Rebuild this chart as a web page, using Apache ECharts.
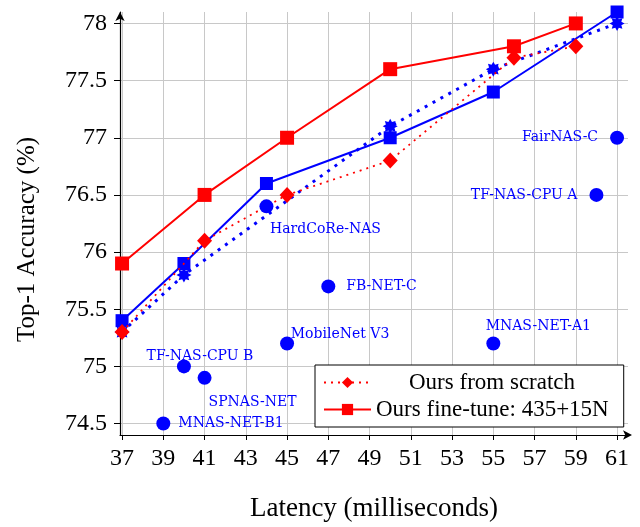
<!DOCTYPE html>
<html>
<head>
<meta charset="utf-8">
<script src="https://cdn.jsdelivr.net/npm/echarts@6/dist/echarts.min.js"></script>
<style>html,body{margin:0;padding:0;background:#fff}#chart{width:640px;height:527px}</style>
</head>
<body>
<div id="chart"></div>
<script>
// ---- data ----
const xTicks = [37, 39, 41, 43, 45, 47, 49, 51, 53, 55, 57, 59, 61];
const yTicks = [74.5, 75, 75.5, 76, 76.5, 77, 77.5, 78];

const scratchLatency = [37, 41, 45, 50, 56, 59];
const scratchAcc = [75.3, 76.1, 76.5, 76.8, 77.7, 77.8];

const fineTuneLatency = [37, 41, 45, 50, 56, 59];
const fineTuneAcc = [75.9, 76.5, 77.0, 77.6, 77.8, 78.0];

const blueFineLatency = [37, 40, 44, 50, 55, 61];
const blueFineAcc = [75.4, 75.9, 76.6, 77.0, 77.4, 78.1];

const blueScratchLatency = [37, 40, 50, 55, 61];
const blueScratchAcc = [75.3, 75.8, 77.1, 77.6, 78.0];

const modelNames = ['MNAS-NET-B1', 'TF-NAS-CPU B', 'SPNAS-NET', 'MobileNet V3', 'FB-NET-C', 'HardCoRe-NAS', 'MNAS-NET-A1', 'TF-NAS-CPU A', 'FairNAS-C'];
const modelLatency = [39, 40, 41, 45, 47, 44, 55, 60, 61];
const modelAcc = [74.5, 75.0, 74.9, 75.2, 75.7, 76.4, 75.2, 76.5, 77.0];

const legendNames = ['Ours from scratch', 'Ours fine-tune: 435+15N'];

// ---- styles ----
const RED = '#ff0000', BLUE = '#0000ff';
const labelPlacement = {
  'MNAS-NET-B1': { position: 'right', distance: 8 },
  'TF-NAS-CPU B': { position: 'top', distance: 0, offset: [16, 4] },
  'SPNAS-NET': { position: 'bottom', distance: 8, offset: [48, 3] },
  'MobileNet V3': { position: 'top', distance: 0, offset: [53, 5] },
  'FB-NET-C': { position: 'right', distance: 11 },
  'HardCoRe-NAS': { position: 'bottom', distance: 8, offset: [59, 1] },
  'MNAS-NET-A1': { position: 'top', distance: 7, offset: [45, 4] },
  'TF-NAS-CPU A': { position: 'left', distance: 12 },
  'FairNAS-C': { position: 'left', distance: 12 }
};
const starPath = 'path://M20,10L15.73,12.37L17.07,17.07L12.37,15.73L10,20L7.63,15.73L2.93,17.07L4.27,12.37L0,10L4.27,7.63L2.93,2.93L7.63,4.27L10,0L12.37,4.27L17.07,2.93L15.73,7.63Z';
const serif = '"Liberation Serif", "DejaVu Serif", serif';

const zip = (xs, ys) => xs.map((x, i) => [x, ys[i]]);

const chart = echarts.init(document.getElementById('chart'), null, { renderer: 'canvas' });
chart.setOption({
  animation: false,
  backgroundColor: '#fff',
  grid: { left: 120, right: 12, top: 12, bottom: 86, containLabel: false },
  xAxis: {
    type: 'value', min: 36.9, max: 61.53,
    name: 'Latency (milliseconds)', nameLocation: 'middle', nameGap: 60,
    nameTextStyle: { fontFamily: serif, fontSize: 27, color: '#000' },
    axisLine: { onZero: false, lineStyle: { color: '#000', width: 1.2 }, symbol: ['none', 'arrow'], symbolSize: [7, 9], symbolOffset: [0, 4] },
    axisTick: { show: true, length: 5, customValues: xTicks, lineStyle: { color: '#000' } },
    axisLabel: { customValues: xTicks, margin: 12, fontFamily: serif, fontSize: 24, color: '#000' },
    splitLine: { show: true, lineStyle: { color: '#c8c8c8', width: 1 } }
  },
  yAxis: {
    type: 'value', min: 74.4, max: 78.1,
    name: 'Top-1 Accuracy (%)', nameLocation: 'middle', nameGap: 80,
    nameTextStyle: { fontFamily: serif, fontSize: 25, color: '#000', padding: [0, 32, 0, 0] },
    axisLine: { onZero: false, lineStyle: { color: '#000', width: 1.2 }, symbol: ['none', 'arrow'], symbolSize: [7, 9], symbolOffset: [0, 0] },
    axisTick: { show: true, length: 6, customValues: yTicks, lineStyle: { color: '#000' } },
    axisLabel: { customValues: yTicks, margin: 13, fontFamily: serif, fontSize: 24, color: '#000' },
    splitLine: { show: true, lineStyle: { color: '#c8c8c8', width: 1 } }
  },
  legend: {
    orient: 'vertical', left: 315, top: 365,
    data: [
      { name: legendNames[0], textStyle: { padding: [0, 0, 0, 33] } },
      { name: legendNames[1] }
    ],
    itemWidth: 47, itemHeight: 14, itemGap: 4,
    padding: [6, 15, 6, 8],
    backgroundColor: '#fff', borderColor: '#000', borderWidth: 1,
    textStyle: { fontFamily: serif, fontSize: 23, color: '#000' },
    z: 20
  },
  series: [
    {
      name: 'Blue fine-tune', type: 'line', data: zip(blueFineLatency, blueFineAcc),
      symbol: 'rect', symbolSize: 13, clip: false, z: 2,
      itemStyle: { color: BLUE }, lineStyle: { color: BLUE, width: 2 }
    },
    {
      name: 'Blue from scratch', type: 'line', data: zip(blueScratchLatency, blueScratchAcc),
      symbol: starPath, symbolSize: 15, clip: false, z: 3,
      itemStyle: { color: BLUE }, lineStyle: { color: BLUE, width: 3, type: [3, 6], cap: 'butt' }
    },
    {
      name: legendNames[1], type: 'line', data: zip(fineTuneLatency, fineTuneAcc),
      symbol: 'rect', symbolSize: 14, clip: false, z: 4,
      itemStyle: { color: RED }, lineStyle: { color: RED, width: 2 }
    },
    {
      name: legendNames[0], type: 'line', data: zip(scratchLatency, scratchAcc),
      symbol: 'diamond', symbolSize: [15, 16], clip: false, z: 5,
      itemStyle: { color: RED }, lineStyle: { color: RED, width: 1.8, type: [2, 5] }
    },
    {
      name: 'Other models', type: 'scatter', symbol: 'circle', symbolSize: 14, z: 6, clip: false,
      itemStyle: { color: BLUE, opacity: 1 },
      data: modelNames.map((n, i) => ({
        name: n, value: [modelLatency[i], modelAcc[i]],
        label: Object.assign({ show: true, formatter: '{b}', color: BLUE, fontFamily: '"DejaVu Serif", serif', fontSize: 14 }, labelPlacement[n])
      }))
    }
  ]
});
</script>
</body>
</html>
